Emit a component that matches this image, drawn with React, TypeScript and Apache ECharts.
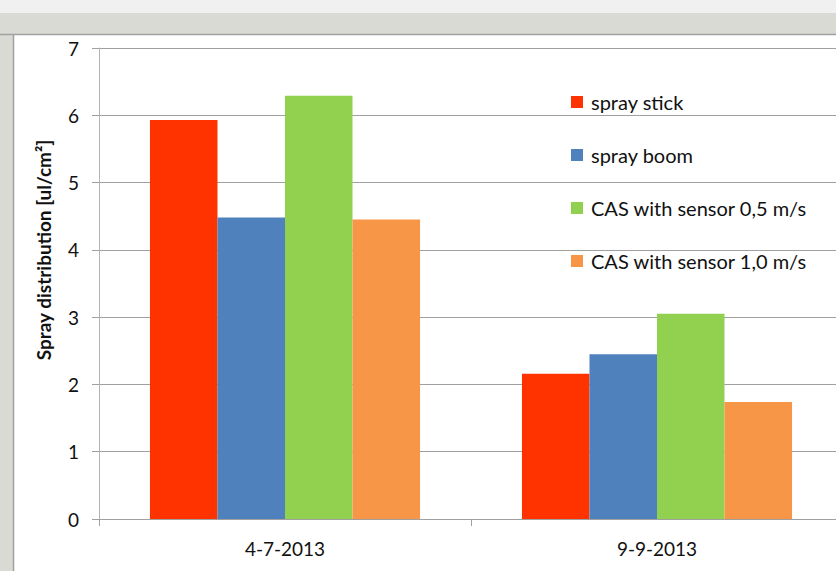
import React, { useEffect, useRef } from "react";
import * as echarts from "echarts";

const categories = ["4-7-2013", "9-9-2013"];
const seriesNames = [
  "spray stick",
  "spray boom",
  "CAS with sensor 0,5 m/s",
  "CAS with sensor 1,0 m/s",
];
const sprayStick = [5.93, 2.16];
const sprayBoom = [4.48, 2.45];
const casSensor05 = [6.29, 3.05];
const casSensor10 = [4.45, 1.74];
const seriesColors = ["#ff3300", "#4f81bd", "#92d050", "#f79646"];
const yTicks = { min: 0, max: 7, interval: 1 };
const yAxisTitle = "Spray distribution [ul/cm²]";

const FONT = "Lato, 'Open Sans', sans-serif";
const W = 843;

export default function App() {
  const ref = useRef<HTMLDivElement>(null);
  useEffect(() => {
    if (!ref.current) return;
    const chart = echarts.init(ref.current, null, { renderer: "svg" });
    const values = [sprayStick, sprayBoom, casSensor05, casSensor10];
    chart.setOption({
      animation: false,
      backgroundColor: "#ffffff",
      textStyle: { fontFamily: FONT },
      graphic: [
        { type: "rect", shape: { x: 0, y: 0, width: W, height: 13 }, style: { fill: "#f0f0f0" }, z: -10 },
        { type: "rect", shape: { x: 0, y: 13, width: W, height: 21 }, style: { fill: "#dadad4" }, z: -10 },
        { type: "rect", shape: { x: 0, y: 34, width: 13, height: 537 }, style: { fill: "#dadad4" }, z: -10 },
        { type: "line", shape: { x1: 0, y1: 34.5, x2: W, y2: 34.5 }, style: { stroke: "#a0a0a0", lineWidth: 1.5 }, z: -9 },
        { type: "line", shape: { x1: 13.5, y1: 34, x2: 13.5, y2: 571 }, style: { stroke: "#a0a0a0", lineWidth: 1.5 }, z: -9 },
        {
          type: "text",
          x: 43,
          y: 250,
          rotation: Math.PI / 2,
          style: {
            text: yAxisTitle,
            fontFamily: FONT,
            fontSize: 19,
            fontWeight: "bold",
            fill: "#111111",
            align: "center",
            verticalAlign: "middle",
          },
        },
      ],
      grid: { left: 99, top: 48, bottom: 52, right: 0, containLabel: false },
      legend: {
        orient: "vertical",
        left: 571,
        top: 91,
        padding: 0,
        itemWidth: 12,
        itemHeight: 12,
        itemGap: 31,
        icon: "rect",
        data: seriesNames,
        textStyle: { fontFamily: FONT, fontSize: 20, color: "#111111", lineHeight: 22, padding: [0, 0, 0, 3] },
      },
      xAxis: {
        type: "category",
        data: categories,
        axisLine: { lineStyle: { color: "#a0a0a0", width: 1 } },
        axisTick: { show: true, length: 7, lineStyle: { color: "#a0a0a0" } },
        axisLabel: { fontFamily: FONT, fontSize: 19, color: "#111111", margin: 20 },
      },
      yAxis: {
        type: "value",
        min: yTicks.min,
        max: yTicks.max,
        interval: yTicks.interval,
        axisLine: { show: true, lineStyle: { color: "#b4b4b4", width: 1 } },
        axisTick: { show: true, length: 7, lineStyle: { color: "#a0a0a0" } },
        splitLine: { lineStyle: { color: "#a0a0a0", width: 1 } },
        axisLabel: { fontFamily: FONT, fontSize: 19, color: "#111111", margin: 20 },
      },
      series: seriesNames.map((name, i) => ({
        name,
        type: "bar",
        data: values[i],
        barGap: "0%",
        barCategoryGap: "27.4%",
        itemStyle: { color: seriesColors[i] },
      })),
    });
    return () => chart.dispose();
  }, []);
  return (
    <div style={{ position: "absolute", left: 0, top: 0, width: 836, height: 571, overflow: "hidden" }}>
      <div ref={ref} style={{ width: W, height: 571 }} />
    </div>
  );
}
